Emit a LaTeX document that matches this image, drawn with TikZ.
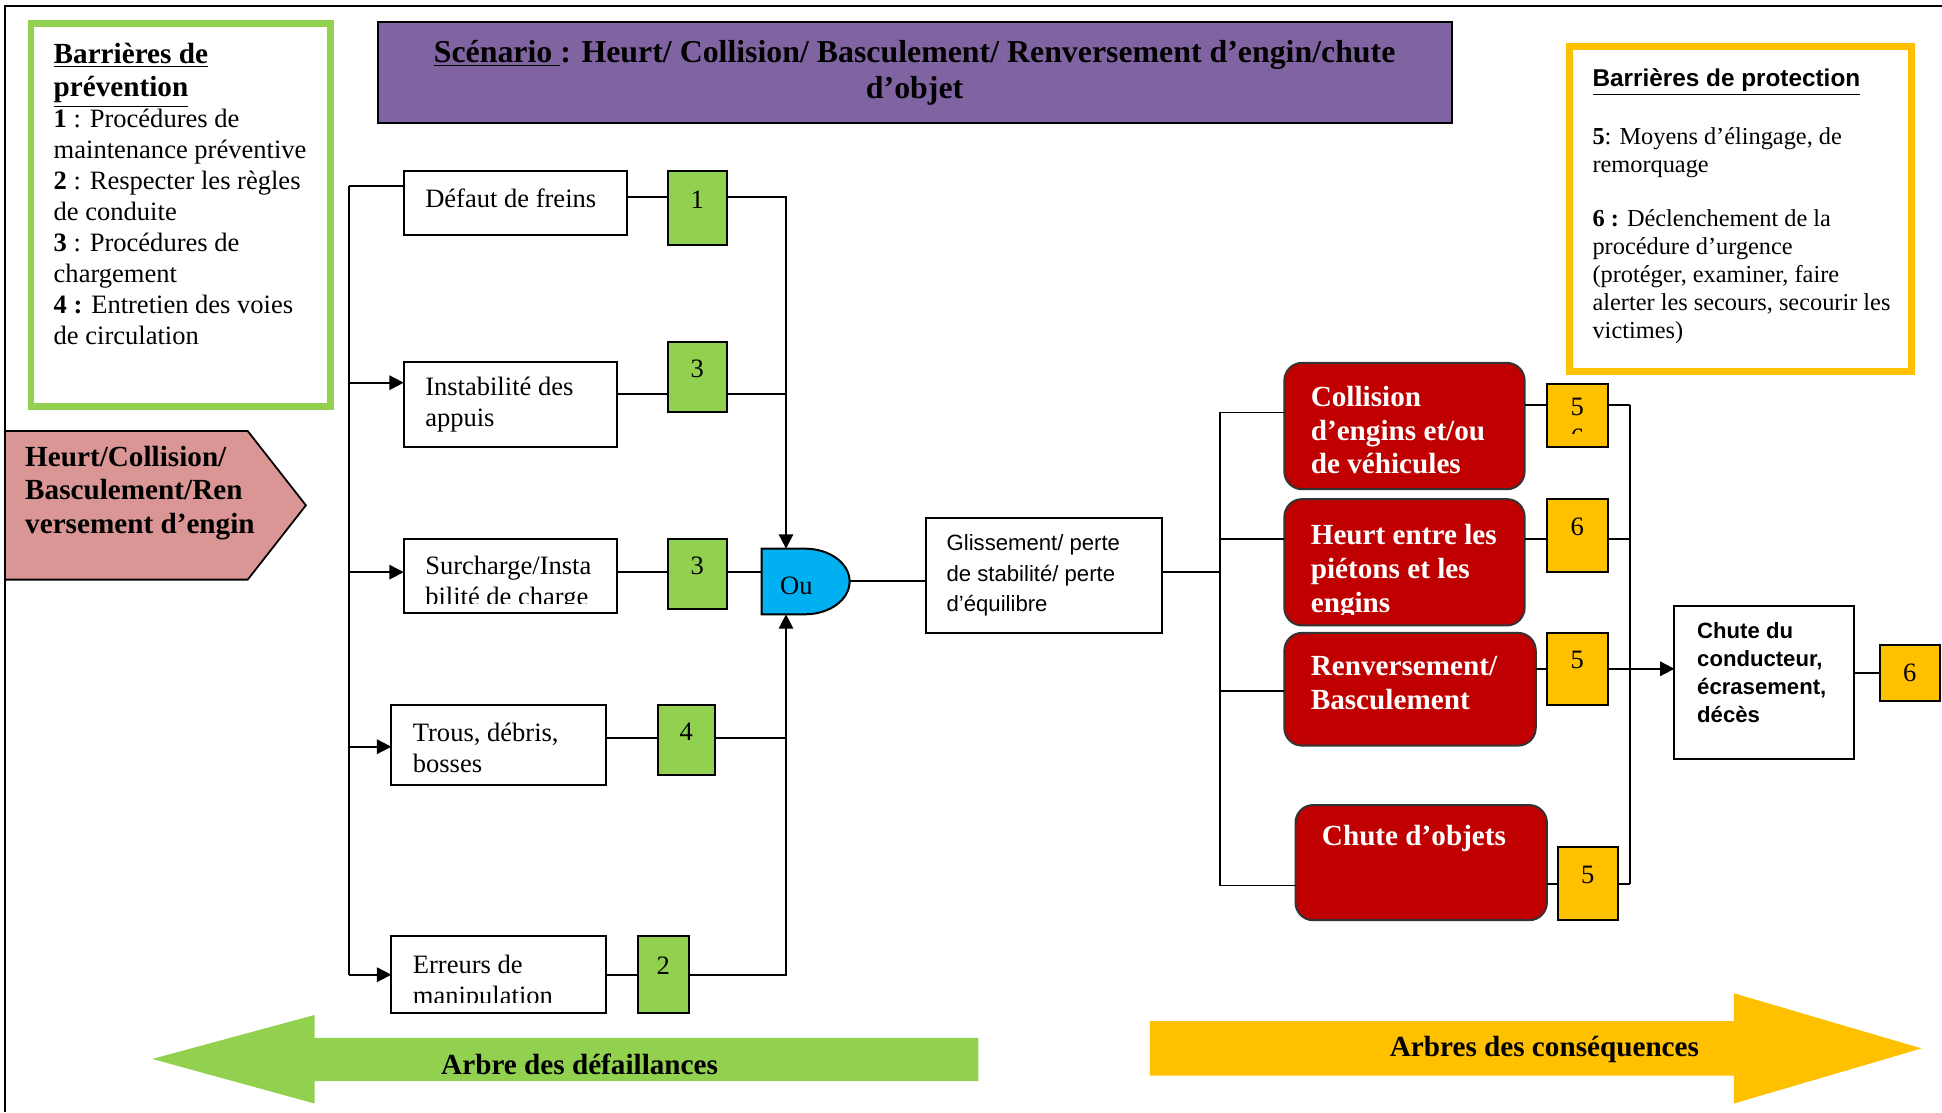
\documentclass[tikz,border=0pt]{standalone}
\usepackage{fontspec}
\setmainfont{Liberation Serif}
\setsansfont{Liberation Sans}
\usepackage{tikz}
\usetikzlibrary{arrows.meta}

\definecolor{vertbar}{HTML}{92D050}
\definecolor{jaunebar}{HTML}{FFC000}
\definecolor{rougec}{HTML}{C00000}
\definecolor{violet}{HTML}{8064A2}
\definecolor{bleuporte}{HTML}{00B0F0}
\definecolor{rose}{HTML}{D99694}

\newcommand\pcause{\fontsize{12}{14}\selectfont}
\newcommand\pgras{\fontsize{13.2}{15.2}\selectfont\bfseries}

\begin{document}
\begin{tikzpicture}[x=0.56pt, y=-0.56pt,
    taille/.style 2 args={minimum width=#1*0.56pt, minimum height=#2*0.56pt},
    cause/.style={draw, fill=white, line width=0.9pt, inner sep=0pt, outer sep=0pt},
    txt/.style={anchor=west, align=left, inner sep=0pt, font=\pcause},
    barv/.style={draw, fill=vertbar, line width=0.9pt, inner sep=0pt, outer sep=0pt, font=\pcause, text height=8pt, text depth=8pt},
    barj/.style={barv, fill=jaunebar},
    conseq/.style={draw=black!80, fill=rougec, rounded corners=8pt, line width=0.9pt, inner sep=0pt, outer sep=0pt},
    txtrouge/.style={txt, text=white, font=\pgras},
    lien/.style={line width=0.8pt},
    fl/.style={lien, -{Triangle[length=6.5pt, width=6.5pt]}}
  ]
  \useasboundingbox (0,0) rectangle (1568,898);
  \draw[line width=0.9pt] (4,898) -- (4,5) -- (1568,5);

  % legendes
  \node[draw=vertbar, line width=3.1pt, taille={242}{309}] (prev) at (146,173.5) {};
  \node[anchor=north west, inner sep=0pt, text width=124pt, align=flush left, font=\fontsize{12}{14}\selectfont] (t-prev) at (43,34.5)
    {{\fontsize{13.2}{15}\selectfont\bfseries \underline{Barrières de}\\\underline{prévention}\par}
     \textbf{1} : Procédures de\\
     maintenance préventive\\
     \textbf{2} : Respecter les règles\\
     de conduite\\
     \textbf{3} : Procédures de\\
     chargement\\
     \textbf{4 :} Entretien des voies\\
     de circulation};

  \node[draw=jaunebar, line width=3.1pt, taille={276}{262.5}] (prot) at (1405.5,168.75) {};
  \node[anchor=north west, inner sep=0pt, text width=145pt, align=flush left, font=\fontsize{11}{12.6}\selectfont] (t-prot) at (1285.5,55)
    {{\sffamily\bfseries\underline{Barrières de protection}\par}
     \vspace{13.7pt}
     \textbf{5}: Moyens d’élingage, de\\
     remorquage\par
     \vspace{12pt}
     \textbf{6 :} Déclenchement de la\\
     procédure d’urgence\\
     (protéger, examiner, faire\\
     alerter les secours, secourir les\\
     victimes)};

  \node[draw, fill=violet, line width=0.9pt, taille={867}{81}, align=center, font=\fontsize{14.4}{16.2}\selectfont\bfseries] (titre) at (738.5,58.5)
    {\underline{Scénario\ }: Heurt/ Collision/ Basculement/ Renversement d’engin/chute\\d’objet};

  \draw[fill=rose, line width=0.8pt] (4,348) -- (200,348) -- (247,408) -- (200,468) -- (4,468) -- cycle;
  \node[txt, font=\pgras] (t-rose) at (20,398) {Heurt/Collision/\\Basculement/Ren\\versement d’engin};

  % causes
  \node[cause, taille={180}{52}] (defaut) at (416,164) {};
  \node[txt] (t-defaut) at ([shift={(17,-4)}]defaut.west) {Défaut de freins};
  \node[cause, taille={172}{69}] (instab) at (412,326.5) {};
  \node[txt] (t-instab) at ([shift={(17,0)}]instab.west) {Instabilité des\\appuis};
  \node[cause, taille={172}{60}] (surch) at (412,465) {};
  \begin{scope}
    \clip (surch.north west) rectangle ([yshift=4.5pt]surch.south east);
    \node[txt] (t-surch) at ([shift={(17,6.5)}]surch.west) {Surcharge/Insta\\bilité de charge};
  \end{scope}
  \node[cause, taille={173}{65}] (trous) at (402.5,601.5) {};
  \node[txt] (t-trous) at ([shift={(17,2)}]trous.west) {Trous, débris,\\bosses};
  \node[cause, taille={173}{62}] (erreurs) at (402.5,787) {};
  \begin{scope}
    \clip (erreurs.north west) rectangle ([yshift=5pt]erreurs.south east);
    \node[txt] (t-erreurs) at ([shift={(17,6)}]erreurs.west) {Erreurs de\\manipulation};
  \end{scope}

  \node[barv, taille={48}{60}] (g1) at (563,168) {1};
  \node[barv, taille={48}{57}] (g3a) at (563,304.5) {3};
  \node[barv, taille={48}{57}] (g3b) at (563,463.5) {3};
  \node[barv, taille={46}{57}] (g4) at (554,597.5) {4};
  \node[barv, taille={41}{62}] (g2) at (535.5,787) {2};

  % porte Ou
  \node[taille={71}{53}, inner sep=0pt, outer sep=0pt] (ou) at (650.5,469.5) {};
  \draw[fill=bleuporte, line width=0.9pt] (ou.south west) -- (ou.north west) -- ++(35,0)
    arc[start angle=-90, end angle=90, x radius=36, y radius=26.5] -- cycle;
  \node[font=\pcause, inner sep=0pt] (t-ou) at ([shift={(-7.5,3.5)}]ou.center) {Ou};
  \coordinate (ou-h) at ([xshift=11pt]ou.north west);
  \coordinate (ou-b) at ([xshift=11pt]ou.south west);

  \coordinate (tg-h) at (282,150);
  \coordinate (tg-b) at (282,787);
  \draw[lien] (tg-h) -- (tg-b);
  \draw[lien] (tg-h) -- (tg-h -| defaut.west);
  \draw[fl] ([yshift=9.8pt]instab.west -| tg-h) -- ([yshift=9.8pt]instab.west);
  \draw[fl] ([yshift=1.7pt]surch.west -| tg-h) -- ([yshift=1.7pt]surch.west);
  \draw[fl] ([yshift=-0.8pt]trous.west -| tg-h) -- ([yshift=-0.8pt]trous.west);
  \draw[fl] (tg-b) -- (tg-b -| erreurs.west);

  \draw[lien] ([yshift=2.8pt]defaut.east) -- ([yshift=2.8pt]defaut.east -| g1.west);
  \draw[fl] ([yshift=2.8pt]defaut.east -| g1.east) -| (ou-h);
  \draw[lien] ([yshift=4.8pt]instab.east) -- ([yshift=4.8pt]instab.east -| g3a.west);
  \draw[lien] ([yshift=4.8pt]instab.east -| g3a.east) -- ([yshift=4.8pt]instab.east -| ou-h);
  \draw[lien] ([yshift=1.7pt]surch.east) -- ([yshift=1.7pt]surch.east -| g3b.west);
  \draw[lien] ([yshift=1.7pt]surch.east -| g3b.east) -- ([yshift=1.7pt]surch.east -| ou.west);
  \draw[lien] ([yshift=3.1pt]trous.east) -- ([yshift=3.1pt]trous.east -| g4.west);
  \draw[lien] ([yshift=3.1pt]trous.east -| g4.east) -- ([yshift=3.1pt]trous.east -| ou-b);
  \draw[lien] (erreurs.east) -- (g2.west);
  \draw[fl] (g2.east) -| (ou-b);

  % evenement central
  \node[cause, taille={190}{93}] (gliss) at (843,464.5) {};
  \node[txt, font=\sffamily\fontsize{10}{14}\selectfont] (t-gliss) at ([shift={(16,0)}]gliss.west) {Glissement/ perte\\de stabilité/ perte\\d’équilibre};
  \draw[lien] ([yshift=0.3pt]ou.east) -- ([yshift=0.3pt]ou.east -| gliss.west);

  % consequences
  \node[conseq, taille={194}{102}] (col) at (1134,344) {};
  \node[txtrouge] (t-col) at ([shift={(21,3.5)}]col.west) {Collision\\d’engins et/ou\\de véhicules};
  \node[conseq, taille={194}{102}] (heurt) at (1134,454) {};
  \begin{scope}
    \clip (heurt.north west) rectangle ([yshift=5pt]heurt.south east);
    \node[txtrouge] (t-heurt) at ([shift={(21,7.5)}]heurt.west) {Heurt entre les\\piétons et les\\engins};
  \end{scope}
  \node[conseq, taille={203}{91}] (renv) at (1138.5,556.5) {};
  \node[txtrouge] (t-renv) at ([shift={(21,-5)}]renv.west) {Renversement/\\Basculement};
  \node[conseq, taille={203}{93}] (chute) at (1147.5,696.5) {};
  \node[txtrouge] (t-chute) at ([shift={(21,-19.5)}]chute.west) {Chute d’objets};

  \node[barj, taille={49}{51}] (y1) at (1273.5,335.5) {5};
  \begin{scope}
    \clip ([yshift=-3pt]y1.base west) rectangle ([yshift=-8.1pt]y1.base east);
    \node[font=\pcause, inner sep=0pt, anchor=base] (y1-bis) at ([yshift=-14pt]y1.base) {6};
  \end{scope}
  \node[barj, taille={49}{59}] (y2) at (1273.5,432.5) {6};
  \node[barj, taille={49}{58}] (y3) at (1273.5,540) {5};
  \node[barj, taille={48}{59}] (y4) at (1282,713.5) {5};

  \node[cause, taille={145}{124}] (cond) at (1424.5,551) {};
  \node[txt, font=\sffamily\bfseries\fontsize{10}{12.7}\selectfont] (t-cond) at ([shift={(18,-8)}]cond.west) {Chute du\\conducteur,\\écrasement,\\décès};
  \node[barj, taille={48}{45}, text depth=0pt] (y5) at (1542,543.5) {6};

  \coordinate (td-h) at (985,333);
  \coordinate (td-b) at (985,715);
  \draw[lien] (td-h) -- (td-b);
  \draw[lien] ([yshift=1.4pt]gliss.east) -- ([yshift=1.4pt]gliss.east -| td-h);
  \draw[lien] (td-h) -- (td-h -| col.west);
  \draw[lien] ([yshift=10.6pt]heurt.west -| td-h) -- ([yshift=10.6pt]heurt.west);
  \draw[lien] ([yshift=-0.8pt]renv.west -| td-h) -- ([yshift=-0.8pt]renv.west);
  \draw[lien] (td-b) -- (td-b -| chute.west);

  \coordinate (tc-h) at (1316,327);
  \coordinate (tc-b) at (1316,713.5);
  \draw[lien] (tc-h) -- (tc-b);
  \draw[lien] (tc-h -| col.east) -- (tc-h -| y1.west);
  \draw[lien] (tc-h -| y1.east) -- (tc-h);
  \draw[lien] ([yshift=10.6pt]heurt.east) -- ([yshift=10.6pt]heurt.east -| y2.west);
  \draw[lien] ([yshift=10.6pt]heurt.east -| y2.east) -- ([yshift=10.6pt]heurt.east -| tc-h);
  \draw[lien] (y3.west -| renv.east) -- (y3.west);
  \draw[lien] (y3.east) -- (y3.east -| tc-h);
  \draw[fl] (y3.east -| tc-h) -- (y3.east -| cond.west);
  \draw[lien] (y4.west -| chute.east) -- (y4.west);
  \draw[lien] (y4.east) -- (y4.east -| tc-b);
  \draw[lien] (y5.west -| cond.east) -- (y5.west);

  % fleches du bas
  \fill[vertbar] (123,855) -- (254,819.5) -- (254,838) -- (790,838) -- (790,873) -- (254,873) -- (254,891) -- cycle;
  \node[font=\pgras, inner sep=0pt] (t-def) at (468,859) {Arbre des défaillances};
  \fill[jaunebar] (928.5,824.5) -- (1400,824.5) -- (1400,802) -- (1551.5,846.5) -- (1400,891) -- (1400,868.5) -- (928.5,868.5) -- cycle;
  \node[font=\pgras, inner sep=0pt] (t-cons) at (1247,847) {Arbres des conséquences};
\end{tikzpicture}
\end{document}
